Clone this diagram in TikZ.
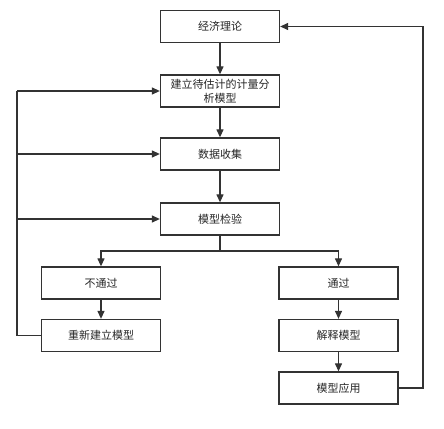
\documentclass[tikz,border=0pt]{standalone}
\usepackage{fontspec}
\newfontfamily\cjk{Noto Sans CJK SC}
\usetikzlibrary{arrows.meta}
\definecolor{ln}{HTML}{333333}
\begin{document}
\begin{tikzpicture}[x=1pt,y=-1pt,
  box/.style={draw=ln,line width=1.3pt,minimum width=119pt,minimum height=32pt,inner sep=1pt,
    font=\cjk\fontsize{11}{14}\selectfont,text=black!85,align=center,text width=108pt},
  arr/.style={draw=ln,line width=1.2pt,-{Triangle[length=8pt,width=7pt]}},
  ln/.style={draw=ln,line width=1.2pt}]
\useasboundingbox[fill=white] (0,0) rectangle (444,428);
\node[box] (b1) at (220,26.5) {经济理论};
\node[box] (b2) at (220,91) {建立待估计的计量分\\析模型};
\node[box] (b3) at (220,154) {数据收集};
\node[box] (b4) at (220,219) {模型检验};
\node[box] (l1) at (101,283) {不通过};
\node[box] (l2) at (101,335.5) {重新建立模型};
\node[box] (r1) at (338.5,283) {通过};
\node[box] (r2) at (338.5,335.5) {解释模型};
\node[box] (r3) at (338.5,388) {模型应用};
\coordinate (sp) at (220,251);
\coordinate (lx) at (17,0);
\coordinate (rx) at (423,0);
\draw[arr] (b1) -- (b2);
\draw[arr] (b2) -- (b3);
\draw[arr] (b3) -- (b4);
\draw[ln] (b4.south) -- (sp);
\draw[arr] (sp) -| (l1.north);
\draw[arr] (sp) -| (r1.north);
\draw[arr] (l1) -- (l2);
\draw[arr] (r1) -- (r2);
\draw[arr] (r2) -- (r3);
\draw[ln] (l2.west) -- (lx |- l2.west) -- (lx |- b2.west);
\draw[arr] (lx |- b2.west) -- (b2.west);
\draw[arr] (lx |- b3.west) -- (b3.west);
\draw[arr] (lx |- b4.west) -- (b4.west);
\draw[arr] (r3.east) -- (rx |- r3.east) -- (rx |- b1.east) -- (b1.east);
\end{tikzpicture}
\end{document}
